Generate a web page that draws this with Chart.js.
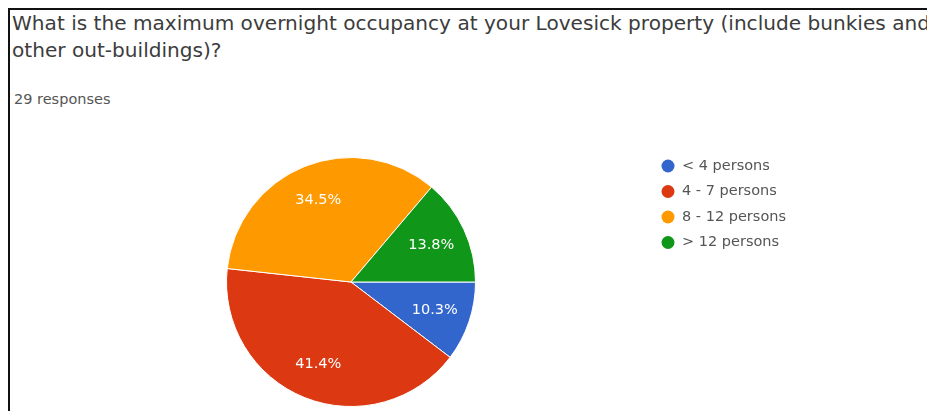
<!DOCTYPE html>
<html>
<head>
<meta charset="utf-8">
<script src="https://cdn.jsdelivr.net/npm/chart.js@4.4.0/dist/chart.umd.min.js"></script>
<style>
  body { margin: 0; background: #fff; }
  #wrap { position: relative; width: 927px; height: 411px; overflow: hidden; }
  #frame {
    position: absolute; left: 8px; top: 8px; width: 1000px; height: 500px;
    border-left: 2px solid #111; border-top: 2px solid #111;
  }
  #title {
    position: absolute; left: 12px; top: 10px; white-space: nowrap;
    font-family: "DejaVu Sans", sans-serif; font-size: 20.1px; line-height: 27px;
    color: #3c3c3c;
  }
  #count {
    position: absolute; left: 14px; top: 91px;
    font-family: "DejaVu Sans", sans-serif; font-size: 14.5px; color: #555;
  }
  #myChart { position: absolute; left: 0; top: 0; }
</style>
</head>
<body>
<div id="wrap">
  <div id="frame"></div>
  <div id="title">What is the maximum overnight occupancy at your Lovesick property (include bunkies and<br>other out-buildings)?</div>
  <div id="count">29 responses</div>
  <canvas id="myChart" width="927" height="411"></canvas>
</div>
<script>
var labels = ['< 4 persons', '4 - 7 persons', '8 - 12 persons', '> 12 persons'];
var responses = [3, 12, 10, 4];
var colors = ['#3366cc', '#dc3912', '#ff9900', '#109618'];

// percentage text inside each slice
var sliceLabels = {
    id: 'sliceLabels',
    afterDatasetsDraw: function(chart) {
        var ctx = chart.ctx;
        var data = chart.data.datasets[0].data;
        var total = data.reduce(function(a, b) { return a + b; }, 0);
        ctx.save();
        ctx.fillStyle = '#fff';
        ctx.font = '14.5px "DejaVu Sans", sans-serif';
        ctx.textAlign = 'center';
        ctx.textBaseline = 'middle';
        chart.getDatasetMeta(0).data.forEach(function(arc, i) {
            var mid = (arc.startAngle + arc.endAngle) / 2;
            var r = arc.outerRadius * 0.71;
            var pct = (data[i] / total * 100).toFixed(1) + '%';
            ctx.fillText(pct, arc.x + Math.cos(mid) * r, arc.y + Math.sin(mid) * r);
        });
        ctx.restore();
    }
};

// legend on the right, dot + label
var dotLegend = {
    id: 'dotLegend',
    afterDraw: function(chart) {
        var ctx = chart.ctx;
        ctx.save();
        ctx.font = '14.5px "DejaVu Sans", sans-serif';
        ctx.textBaseline = 'middle';
        chart.data.labels.forEach(function(lbl, i) {
            var y = 166 + i * 25.5;
            ctx.beginPath();
            ctx.arc(668, y, 6.5, 0, Math.PI * 2);
            ctx.fillStyle = chart.data.datasets[0].backgroundColor[i];
            ctx.fill();
            ctx.fillStyle = '#555';
            ctx.fillText(lbl, 682, y);
        });
        ctx.restore();
    }
};

var ctx = document.getElementById('myChart').getContext('2d');
var chart = new Chart(ctx, {
    type: 'pie',
    data: {
        labels: labels,
        datasets: [{
            data: responses,
            backgroundColor: colors,
            borderColor: '#fff',
            borderWidth: 1
        }]
    },
    options: {
        responsive: false,
        animation: false,
        rotation: 90,
        layout: { padding: { left: 226, right: 451, top: 157, bottom: 4 } },
        plugins: {
            legend: { display: false },
            tooltip: { enabled: false }
        }
    },
    plugins: [sliceLabels, dotLegend]
});
</script>
</body>
</html>
